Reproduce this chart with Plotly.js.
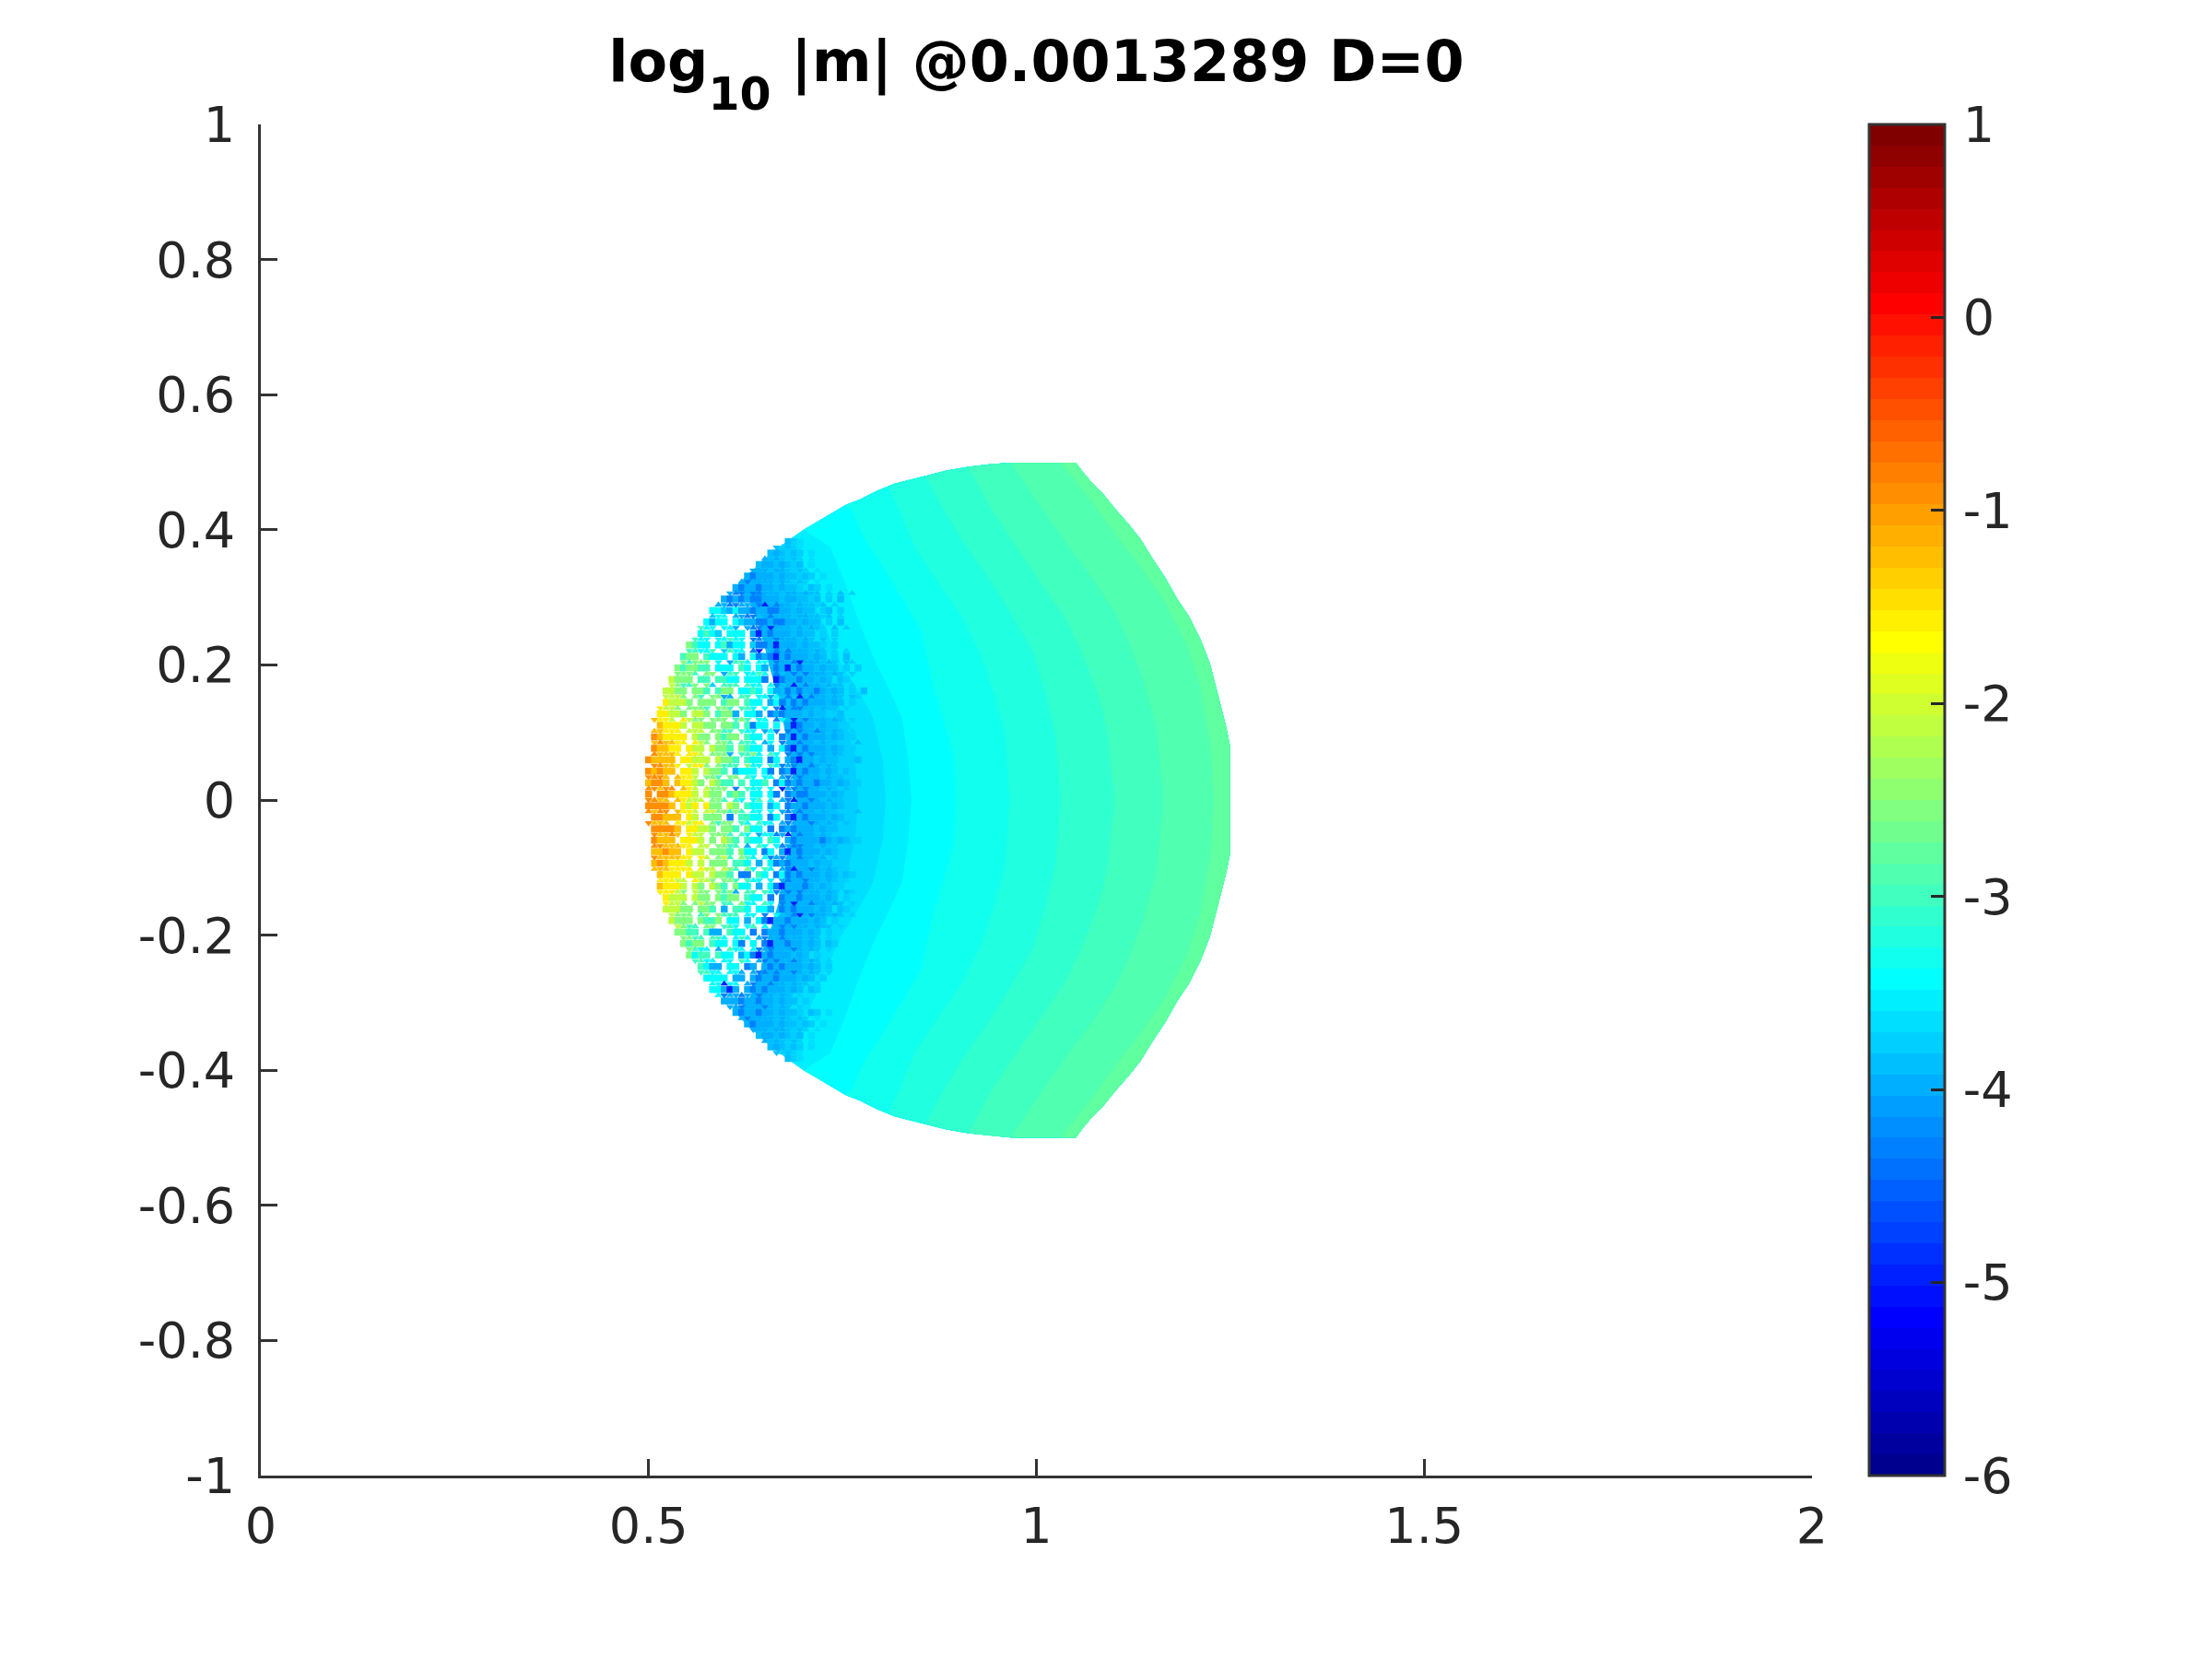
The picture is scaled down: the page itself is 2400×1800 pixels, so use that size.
<!DOCTYPE html>
<html><head><meta charset="utf-8">
<script src="https://cdn.plot.ly/plotly-3.0.1.min.js"></script>
<style>html,body{margin:0;padding:0;background:#fff}</style></head>
<body><div id="chart" style="width:2400px;height:1800px"></div>
<script>
// Tick labels
const xTicks=[0,0.5,1,1.5,2], xLabels=['0','0.5','1','1.5','2'];
const yTicks=[-1,-0.8,-0.6,-0.4,-0.2,0,0.2,0.4,0.6,0.8,1];
const yLabels=['-1','-0.8','-0.6','-0.4','-0.2','0','0.2','0.4','0.6','0.8','1'];
const cTicks=[-6,-5,-4,-3,-2,-1,0,1], cLabels=['-6','-5','-4','-3','-2','-1','0','1'];

// Outline of the filled region: lower left, round the right, to upper left
const outlineX=[0.608,0.62,0.64,0.658,0.68,0.70,0.715,0.734,0.7538,0.7736,0.7934,0.8172,0.837,0.8568,0.8845,0.9122,0.9399,0.9676,1.0508,1.0607,1.0706,1.0864,1.1023,1.1181,1.134,1.1498,1.1656,1.1815,1.1973,1.2112,1.2235,1.231,1.2369,1.2448,1.2496,1.2496,1.2448,1.2369,1.231,1.2235,1.2112,1.1973,1.1815,1.1656,1.1498,1.134,1.1181,1.1023,1.0864,1.0706,1.0607,1.0508,0.9676,0.9399,0.9122,0.8845,0.8568,0.837,0.8172,0.7934,0.7736,0.7538,0.734,0.715,0.70,0.68,0.658,0.64,0.62,0.608];
const outlineY=[-0.309,-0.325,-0.347,-0.365,-0.384,-0.40,-0.41,-0.4229,-0.4365,-0.4456,-0.457,-0.4683,-0.4742,-0.4796,-0.4878,-0.4933,-0.4969,-0.4996,-0.4996,-0.4842,-0.4706,-0.4524,-0.4297,-0.4092,-0.3865,-0.357,-0.3297,-0.2979,-0.2706,-0.2388,-0.2025,-0.1707,-0.1434,-0.107,-0.0798,0.0798,0.107,0.1434,0.1707,0.2025,0.2388,0.2706,0.2979,0.3297,0.357,0.3865,0.4092,0.4297,0.4524,0.4706,0.4842,0.4992,0.4992,0.4969,0.4933,0.4878,0.4796,0.4742,0.4683,0.457,0.4456,0.4365,0.4229,0.41,0.40,0.384,0.365,0.347,0.325,0.309];

// Band levels (log10 |m|) and their left boundaries, top to bottom
const bandLevels=[-3.87,-3.76,-3.65,-3.54,-3.43,-3.32,-3.21,-3.10,-2.99,-2.88,-2.77];
const base_x=[0.608,0.628,0.645,0.655,0.668,0.676,0.684,0.69,0.684,0.676,0.668,0.655,0.645,0.628,0.608];
const base_y=[0.309,0.30,0.25,0.20,0.15,0.10,0.05,0,-0.05,-0.10,-0.15,-0.20,-0.25,-0.30,-0.309];
const t1_x=[0.64,0.66,0.68,0.695,0.708,0.716,0.72,0.716,0.708,0.695,0.68,0.66,0.64];
const t1_y=[0.347,0.257,0.202,0.157,0.10,0.05,0,-0.05,-0.10,-0.157,-0.202,-0.257,-0.347];
const s2_x=[0.658,0.675,0.697,0.716,0.736,0.754,0.766,0.770,0.766,0.754,0.736,0.716,0.697,0.675,0.658];
const s2_y=[0.365,0.32,0.257,0.202,0.157,0.12,0.057,0,-0.057,-0.12,-0.157,-0.202,-0.257,-0.32,-0.365];
const s1_x=[0.68,0.704,0.727,0.748,0.773,0.79,0.802,0.806,0.802,0.79,0.773,0.748,0.727,0.704,0.68];
const s1_y=[0.384,0.32,0.257,0.202,0.157,0.12,0.057,0,-0.057,-0.12,-0.157,-0.202,-0.257,-0.32,-0.384];
const b0_x=[0.70,0.734,0.7538,0.7736,0.7934,0.8132,0.827,0.835,0.8389,0.835,0.827,0.8132,0.7934,0.7736,0.7538,0.734,0.70];
const b0_y=[0.40,0.375,0.32,0.257,0.202,0.157,0.12,0.057,0,-0.057,-0.12,-0.157,-0.202,-0.257,-0.32,-0.375,-0.40];
const b1_x=[0.7538,0.7617,0.7775,0.8152,0.8508,0.8686,0.8844,0.8925,0.8963,0.8925,0.8844,0.8686,0.8508,0.8152,0.7775,0.7617,0.7538];
const b1_y=[0.4365,0.429,0.388,0.32,0.252,0.161,0.102,0.066,0,-0.066,-0.102,-0.161,-0.252,-0.32,-0.388,-0.429,-0.4365];
const b2_x=[0.8092,0.8448,0.8765,0.9042,0.928,0.9478,0.9597,0.9656,0.9597,0.9478,0.928,0.9042,0.8765,0.8448,0.8092];
const b2_y=[0.465,0.37,0.316,0.27,0.216,0.147,0.093,0,-0.093,-0.147,-0.216,-0.27,-0.316,-0.37,-0.465];
const b3_x=[0.8568,0.8805,0.9042,0.9399,0.9755,0.9953,1.0111,1.025,1.0309,1.025,1.0111,0.9953,0.9755,0.9399,0.9042,0.8805,0.8568];
const b3_y=[0.4796,0.429,0.384,0.325,0.261,0.22,0.161,0.093,0,-0.093,-0.161,-0.22,-0.261,-0.325,-0.384,-0.429,-0.4796];
const b4_x=[0.9122,0.9399,0.9715,1.0072,1.0388,1.0626,1.0824,1.0923,1.1002,1.0923,1.0824,1.0626,1.0388,1.0072,0.9715,0.9399,0.9122];
const b4_y=[0.4933,0.434,0.379,0.32,0.266,0.207,0.147,0.093,0,-0.093,-0.147,-0.207,-0.266,-0.32,-0.379,-0.434,-0.4933];
const b5_x=[0.9676,1.0032,1.0388,1.0745,1.1022,1.122,1.1378,1.1556,1.1635,1.1556,1.1378,1.122,1.1022,1.0745,1.0388,1.0032,0.9676];
const b5_y=[0.4992,0.438,0.379,0.325,0.275,0.225,0.179,0.102,0,-0.102,-0.179,-0.225,-0.275,-0.325,-0.379,-0.438,-0.4996];
const b6_x=[1.0317,1.0705,1.1022,1.1299,1.1635,1.1932,1.211,1.2249,1.2288,1.2249,1.211,1.1932,1.1635,1.1299,1.1022,1.0705,1.0317];
const b6_y=[0.4992,0.443,0.393,0.352,0.297,0.234,0.17,0.079,0,-0.079,-0.17,-0.234,-0.297,-0.352,-0.393,-0.443,-0.4996];
const bandEdges=[[base_x,base_y],[t1_x,t1_y],[s2_x,s2_y],[s1_x,s1_y],[b0_x,b0_y],[b1_x,b1_y],[b2_x,b2_y],[b3_x,b3_y],[b4_x,b4_y],[b5_x,b5_y],[b6_x,b6_y]];

// Speckled left part, read cell by cell: one character per cell, "." is no mark
const speckleValues={o:-0.95,a:-1.25,y:-1.62,l:-2.17,g:-2.6,t:-3.04,c:-3.38,e:-3.54,n:-3.65,s:-3.76,m:-3.85,k:-3.98,b:-4.35,d:-5.0};
const speckleX0=0.5, speckleDX=0.0075, speckleY0=0.3825, speckleDY=0.0085;
const speckleRows=[
"........................msn.e",
"......................msmsn.e",
".....................mkmsms.n",
"....................kmkmsms.n",
"...................mkkmkmsm.n.e",
"..................kkkmkkmsms.n",
".................kbkkkmkmmsms.n",
"................kbkkkkmkmsms.n",
"...............kbkkbkkmkmms.ms.n",
"..............kbbkbbkkkmkkmkmm.s.m.s",
".............kbkbkbbkkkmkkmmsm.s.m",
"............kkbbkkkbdkbkkmkmmsm.s",
"...........ccskckkbkkbbkkmkmm.sm.s",
"...........scc.kkbb.kbkkkmkkmmsm.s",
"..........ckcc.cskkbbkbbkkmkmm.s.m",
".........tcc.cck.kbbkdkkkmkmkms.m.s",
".........ctcs.ccc.kdkbkkkmkmm.s.s",
"........tcc.cctcc.bbkkbkkkmkm.m.s",
".......gtcc.ctkcc.sbbkdkkkmkmms.s",
".......ttcct.stcc.bd.kbkbkkkmkm.s.s",
"......tgg.tccc.ck.cbkbdkbkkkmkm.s.m",
"......gtggg.c.kttc.cc.bkkbdkkkmkm.ms",
".....gtggtt.ccc.tc.ck.bkdkbkkmkmm.s.s",
".....gggt.gg.ktt.cctc.b.kbkbkkkmkm.s",
"....lggg.tt.ttcc.cccb.dbkkbkkmkm.ms",
"....lgttg.gs.ttt.tcc.cb.kdkbkkmkmm.s",
"...llgg.ggt.tgg.cctc.ck.bkbkkbkmkm.s.m",
"...lllg.gt.ggkk.tt.cckc.b.dkbkkmkm.ms",
"...ylllg.ggg.tgg.tcc.kcb.bkbkkkmkm.s",
"..yllg.gggt.ggt.ttc.c.bdkbbkkmkmm.s",
"..yyllg.llg.tggk.cck.bkbkkkmkmms.m",
".ayyl.ylgg.ggg.tgt.cc.bc.dkbkkkmkm.s",
"..ayyyl.llgg.ggt.tbcc.c.kdbkkmkmm.s",
".aayyy.lll.ggtt.tcc.kcb.bkbkkbkmkm.s",
".oayyyy.lgg.gtgg.tcc.c.b.dkbkkkmkm.s",
".aoaayy.ylg.ggt.ttc.kc.bkkbkkmkmm.s.m",
".oaayy.yll.lggt.gtcc.k.cbdkbkkkmkm.s",
".oaaay.yyl.gggk.ttgc.tc.bkbkbkkmkm.s",
"oaaaa.yylll.lggt.tcc.bc.kbdkkmkmm.s.m",
".ooaay.lyyg.gttt.gcc.tcbkbkkbkmkm.s",
"oaoaa.yyl.lggt.kccc.cb.bkdkbkkmkm.ms",
"oooa.ayyl.ggt.gg.tc.cc.kbkbkkkmkmm.s",
"aooa.ayylg.lgtt.t.cct.bcbkbkkbkkmkm.s",
"ooaoo.ayl.lggg.b.tcc.c.dkbkbkkmkm.ms",
"o.ooayyyl.lgg.tgt.cc.cb.bkbbkkkmkm.s",
"ooaa.aylll.ggt.tc.ct.c.kbdkkbkmkmm.s",
"ooooa.yly.ygg.lg.tcc.kc.bkkbkkkmkm.s",
"oaoo.ayyl.llggtgt.cc.c.kbkbkkmkmm.s.m",
".ooaaa.yl.ggg.b.ttcc.bc.bdkbkkkmkm.s",
"oaaa.yylyy.gtgg.tc.tcc.kbkkkbkmkm.ms",
".ooooa.yyllg.ggt.gcc.b.bkbkkkmkmm.s",
".oaaoa.yll.gggt.tc.kccbkdkbkkmkm.s",
".oaaa.yyyl.g.lgt.tcc.tc.kbkkkkbkmkm.s",
".ooaaayy.ll.ggtt.k.tc.cbkbbkkmkmm.s",
".aaoaa.yll.gggt.gcc.bc.kdkbkkkmkm.s",
".oaaaayy.yl.glt.gtc.cbkbkkbkkmk.ms",
".aoayyyl.l.ggg.ttc.k.cbkbkkkmkmm.s",
".aaayyyy.yll.lgt.gc.tc.kbdkkbkmkm.s",
"..ayyy.yll.lggt.bb.tc.bcbkbkkkmkm.ms",
"..yyyll.yllg.ggt.tcc.c.kbkkbkkmkm.s",
"..ayyyl.lg.lgt.gcc.k.cbdkkkbkmkm.s",
"..yyylg.lgg.gtgk.tt.tcbkbkbkkkmkm.ms",
"...ylll.lgg.gtgg.tcc.b.bkkbkkkmkm.s",
"...yllg.glgg.tt.gcc.tc.bkdkkbkkmkm.s",
"...lllgg.ggt.k.ttc.cck.bkbkkkmkm.ms",
"....lggg.tg.gttt.cc.b.c.kbdkbkkmkm.s",
"....lggg.gttg.cc.k.cbdkkbkkkmkm.s",
".....lgtt.gg.ttc.ct.c.kbkbkkmkmm.s",
".....ggtt.tkk.tcc.b.bkkbkkkmkm.s",
"......ggtt.ttc.ctc.kbkkbkkkmkm.s",
"......gtgg.tcc.cb.c.bdkkbkkmkm.ms",
".......gtcc.k.tcc.cbkbkkkbkmkm.s",
".......gctt.tcc.kcbdkbkkkmkm.s",
"........ttcc.cc.tc.kbkbkkbkmkm.s",
".........tckk.cc.bk.kbkbkkkmkm.s",
".........ttcc.cck.kbbkbkkbkmkm.s",
"..........cccc.kk.kbkkbkkkmkm.s",
"...........ccdcc.kbkkbkkmkmm.s",
"...........cckdk.kbkbkkkmkm.ms",
"............cbkkbkkbkkmkm.s",
".............kkkbkkbkkmkmm.s",
"..............kkbkkkbkmkm.s",
"...............kbkkbkkmkmms.ms.n",
"................kbkkkkmkmsms.n",
".................kbkkkmkmmsms.n",
"..................kkkmkkmsms.n",
"...................mkkmkmsm.n.e",
"....................kmkmsms.n",
".....................mkmsms.n",
"......................msmsn.e",
"........................msn.e"
];
const cellSymbols=['square','triangle-up','square','triangle-down'];

// MATLAB jet with 64 steps for the colour scale
function jet64(i){
  const ramp=k=>{ if(k<1||k>47) return 0; if(k<=16) return k/16; if(k<=31) return 1; return (48-k)/16; };
  const c=[ramp(i-24),ramp(i-8),ramp(i+8)].map(v=>Math.round(v*255));
  return 'rgb('+c.join(',')+')';
}
const zMin=-6,zMax=1,nSteps=64;
const colorscale=[];
for(let i=1;i<=nSteps;i++){const c=jet64(i);colorscale.push([(i-1)/nSteps,c],[i/nSteps,c]);}
const levelColor=v=>jet64(Math.min(nSteps,Math.max(1,Math.ceil((v-zMin)/(zMax-zMin)*nSteps))));

const traces=[];
bandEdges.forEach((e,k)=>{
  const endX=Math.max(e[0][0],e[0][e[0].length-1]);
  const px=[...e[0]],py=[...e[1]];
  outlineX.forEach((x,i)=>{ if(x>endX+1e-6){px.push(x);py.push(outlineY[i]);} });
  traces.push({type:'scatter',mode:'lines',x:px,y:py,fill:'toself',fillcolor:levelColor(bandLevels[k]),line:{width:0},hoverinfo:'skip',showlegend:false});
});
const sx=[],sy=[],sv=[],sm=[];
speckleRows.forEach((row,r)=>{[...row].forEach((ch,c)=>{ if(speckleValues[ch]!==undefined){
  sx.push(speckleX0+c*speckleDX); sy.push(speckleY0-r*speckleDY); sv.push(speckleValues[ch]);
  sm.push(cellSymbols[(c*2+r*3)%4]); }});});
traces.push({type:'scatter',mode:'markers',x:sx,y:sy,hoverinfo:'skip',showlegend:false,
  marker:{symbol:sm,size:7.5,line:{width:0},color:sv,cmin:zMin,cmax:zMax,colorscale:colorscale,showscale:true,
    colorbar:{thicknessmode:'pixels',thickness:82,lenmode:'fraction',len:1,x:1.0367,xanchor:'left',y:0.5,yanchor:'middle',ypad:0,xpad:0,
      outlinewidth:3,outlinecolor:'#333333',ticks:'inside',ticklen:16,tickwidth:3,tickcolor:'#262626',
      tickmode:'array',tickvals:cTicks,ticktext:cLabels,tickfont:{family:'DejaVu Sans',size:54,color:'#262626'}}}});

const axisCommon={showgrid:false,zeroline:false,showline:true,linecolor:'#333333',linewidth:3,ticks:'inside',ticklen:18,tickwidth:3,tickcolor:'#333333',tickmode:'array',tickfont:{family:'DejaVu Sans',size:54,color:'#262626'},mirror:false};
Plotly.newPlot('chart',traces,{
  width:2400,height:1800,paper_bgcolor:'#fff',plot_bgcolor:'#fff',showlegend:false,
  margin:{l:283,r:434,t:135,b:199,pad:0},
  font:{family:'DejaVu Sans'},
  title:{text:'log<sub>10</sub> |m| @0.0013289 D=0',font:{family:'DejaVu Sans',size:62,color:'#000',weight:'bold'},x:0.4685,xanchor:'center',y:0.963,yanchor:'middle',yref:'container'},
  xaxis:Object.assign({},axisCommon,{range:[0,2],tickvals:xTicks,ticktext:xLabels,ticklabelstandoff:5}),
  yaxis:Object.assign({},axisCommon,{range:[-1,1],tickvals:yTicks,ticktext:yLabels,ticklabelstandoff:14})
},{displayModeBar:false,responsive:false}).then(()=>{
  // Subscript size and drop, and the gap before the colour bar labels
  document.querySelectorAll('.gtitle tspan').forEach((t)=>{
    if(t.textContent==='10'){ t.style.fontSize='49px'; t.setAttribute('dy','31px');
      const n=t.nextSibling; if(n&&n.setAttribute) n.setAttribute('dy','-31px'); }
  });
  document.querySelectorAll('.cbaxis text').forEach(t=>{ t.setAttribute('x',parseFloat(t.getAttribute('x'))+7); });
});
</script></body></html>
